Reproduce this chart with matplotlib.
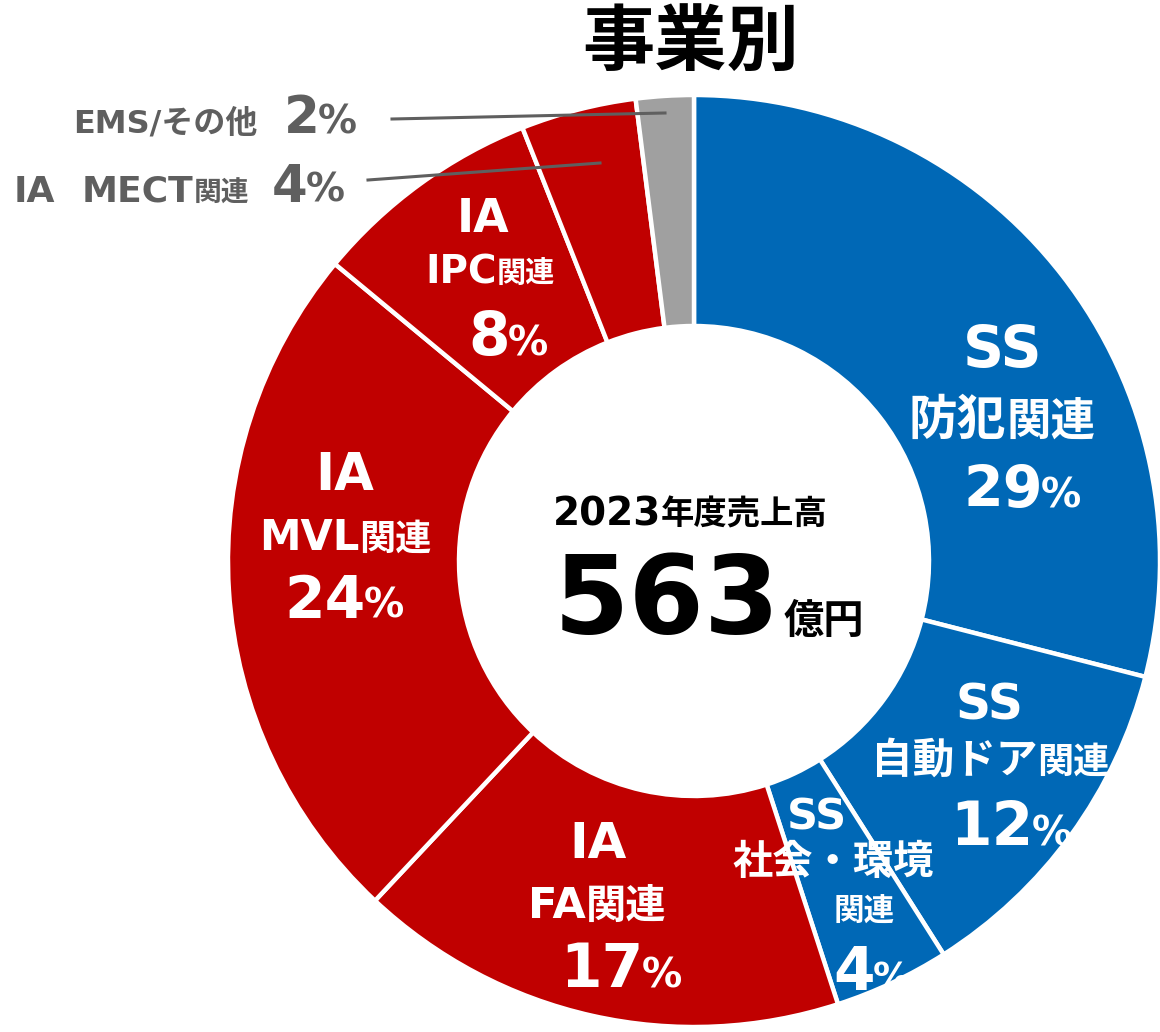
import matplotlib
matplotlib.use("Agg")
import matplotlib.pyplot as plt

plt.rcParams['font.family'] = ['DejaVu Sans', 'Noto Sans CJK JP']
plt.rcParams['font.weight'] = 'bold'

# Data
segments = ["SS 防犯関連", "SS 自動ドア関連", "SS 社会・環境関連", "IA FA関連",
            "IA MVL関連", "IA IPC関連", "IA MECT関連", "EMS/その他"]
values = [29, 12, 4, 17, 24, 8, 4, 2]
colors = ["#0068B6", "#0068B6", "#0068B6", "#C00000",
          "#C00000", "#C00000", "#C00000", "#A0A0A0"]
title = "事業別"
center_year = "2023"
center_label = "年度売上高"
total_value = "563"
total_unit = "億円"

W, H = 1160, 1032
fig = plt.figure(figsize=(W / 100, H / 100), dpi=100)
ax = fig.add_axes([0, 0, 1, 1])

def Y(yp):
    return H - yp

cx, cy, R, Rin = 694, 561, 466, 235
ax.pie(values, colors=colors, startangle=90, counterclock=False,
       center=(cx, Y(cy)), radius=R,
       wedgeprops=dict(width=R - Rin, edgecolor='white', linewidth=3.2))
ax.set_xlim(0, W)
ax.set_ylim(0, H)
ax.set_aspect('equal')
ax.axis('off')

renderer = fig.canvas.get_renderer()
white = 'white'
grey = '#5F5F5F'

def group(x, yb, parts, color=white, align='center'):
    """parts: list of (text, size, gap_before). Placed on one baseline."""
    objs = []
    widths = []
    for s, size, gap in parts:
        t = ax.text(0, Y(yb), s, fontsize=size, color=color, ha='left',
                    va='baseline', fontweight='bold')
        w = t.get_window_extent(renderer).width
        objs.append((t, gap))
        widths.append(w)
    total = sum(widths) + sum(g for _, g in objs)
    if align == 'center':
        x0 = x - total / 2
    elif align == 'right':
        x0 = x - total
    else:
        x0 = x
    for (t, gap), w in zip(objs, widths):
        x0 += gap
        t.set_x(x0)
        x0 += w

# Title
group(691, 66, [(title, 52, 0)], color='black')

# Center
group(690, 525, [(center_year, 28, 0), (center_label, 24, 0)], color='black')
group(709, 633, [(total_value, 78, 0), (total_unit, 29, 4)], color='black')

# SS 防犯関連
group(1003, 367, [("SS", 41, 0)])
group(1002, 435, [("防犯", 35, 0), ("関連", 32, 0)])
group(1022, 507, [(str(values[0]), 41, 0), ("%", 29, -2)])

# SS 自動ドア関連
group(989, 720, [("SS", 35, 0)])
group(990, 773, [("自動ドア", 30, 0), ("関連", 26, 0)])
group(1011, 845, [(str(values[1]), 43, 0), ("%", 29, -2)])

# SS 社会・環境関連
group(817, 830, [("SS", 31, 0)])
group(833, 874, [("社会・環境", 29, 0)])
group(864, 920, [("関連", 22, 0)])
group(872, 990, [(str(values[2]), 43, 0), ("%", 27, -2)])

# IA FA関連
group(598, 858, [("IA", 36, 0)])
group(597, 918, [("FA", 31, 0), ("関連", 29, 0)])
group(621, 987, [(str(values[3]), 43, 0), ("%", 29, -2)])

# IA MVL関連
group(345, 490, [("IA", 37, 0)])
group(345, 550, [("MVL", 30, 0), ("関連", 26, 0)])
group(344, 618, [(str(values[4]), 42, 0), ("%", 29, -2)])

# IA IPC関連
group(483, 232, [("IA", 33, 0)])
group(490, 283, [("IPC", 28, 0), ("関連", 21, 0)])
group(508, 355, [(str(values[5]), 43, 0), ("%", 29, -2)])

# Outside labels
group(258, 133, [("EMS/その他", 23, 0)], color=grey, align='right')
group(284, 133, [(str(values[7]), 37, 0), ("%", 28, -2)], color=grey, align='left')
group(14, 202, [("IA", 26, 0), ("MECT", 26, 26), ("関連", 20, 0)], color=grey, align='left')
group(272, 202, [(str(values[6]), 37, 0), ("%", 28, -2)], color=grey, align='left')

# Leader lines
ax.plot([392, 665], [Y(119), Y(113)], color=grey, lw=2.2)
ax.plot([368, 600], [Y(180), Y(163)], color=grey, lw=2.2)

fig.savefig("out.png", dpi=100)
